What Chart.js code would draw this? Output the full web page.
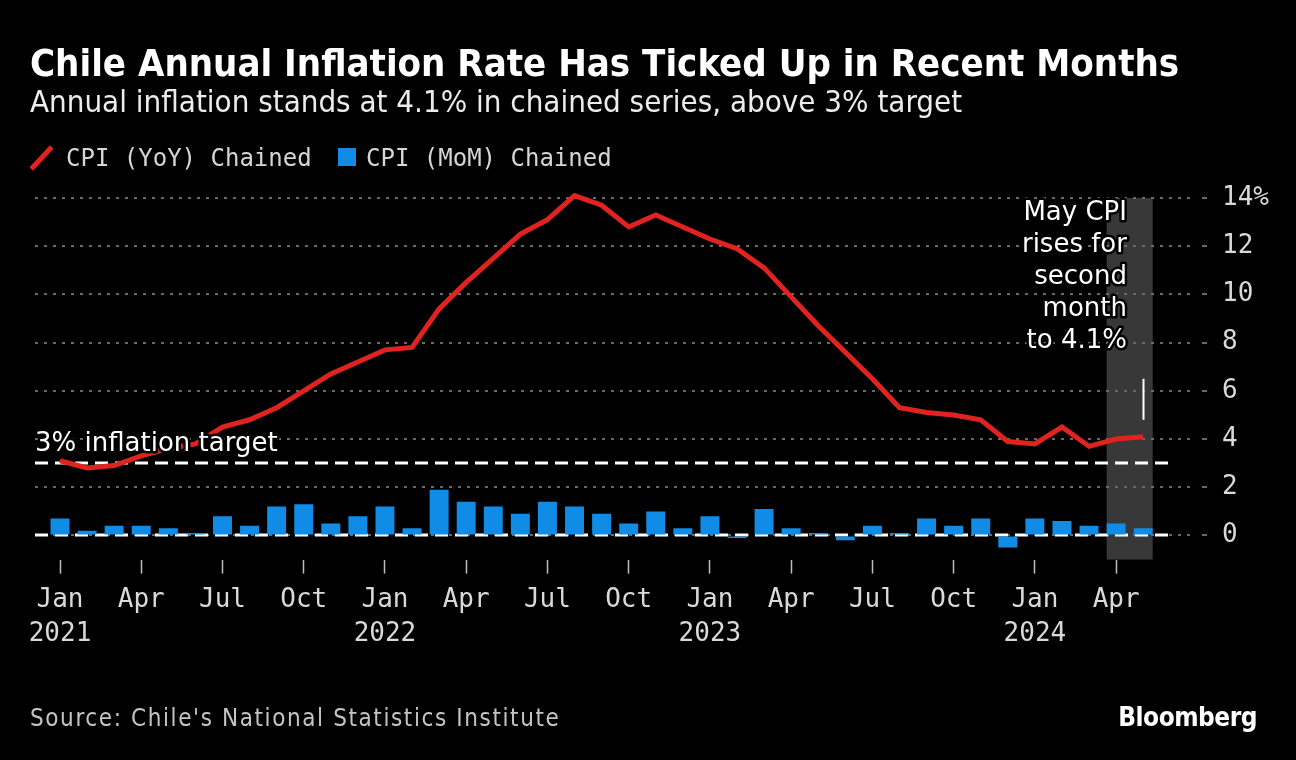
<!DOCTYPE html>
<html lang="en">
<head>
    <meta charset="UTF-8">
    <title>Chile Annual Inflation Rate Has Ticked Up in Recent Months</title>
    <script src="https://cdn.jsdelivr.net/npm/chart.js"></script>
    <style>
        body, html {
            margin: 0;
            padding: 0;
            width: 1296px;
            height: 760px;
            overflow: hidden;
            background: #000;
            font-family: "DejaVu Sans Condensed", "DejaVu Sans", sans-serif;
        }
        #wrap { position: absolute; left: 0; top: 0; width: 1296px; height: 760px; }
        .txt { position: absolute; white-space: nowrap; }
        #title { left: 30px; top: 44px; font-size: 38px; line-height: 38px; font-weight: bold; color: #fff; }
        #subtitle { left: 30px; top: 86px; font-size: 31px; line-height: 31px; color: #ececec; }
        .leg { top: 146px; font-family: "DejaVu Sans Mono", monospace; font-size: 24px; line-height: 24px; color: #d6d6d6; }
        #slash { position: absolute; left: 39px; top: 143px; width: 5px; height: 30px; background: #e0231e; transform: rotate(43deg); }
        #square { position: absolute; left: 338px; top: 148px; width: 18px; height: 18px; background: #118ce6; }
        #source { left: 30px; top: 706px; font-size: 24px; line-height: 24px; letter-spacing: 1.6px; color: #c4c4c4; }
        #logo { right: 39px; top: 704px; font-size: 26px; line-height: 26px; font-weight: bold; color: #fff; letter-spacing: -0.5px; }
    </style>
</head>
<body>
<div id="wrap"><canvas id="cpiChart"></canvas></div>
<div class="txt" id="title">Chile Annual Inflation Rate Has Ticked Up in Recent Months</div>
<div class="txt" id="subtitle">Annual inflation stands at 4.1% in chained series, above 3% target</div>
<div id="slash"></div>
<div class="txt leg" style="left:66px">CPI (YoY) Chained</div>
<div id="square"></div>
<div class="txt leg" style="left:366px">CPI (MoM) Chained</div>
<div class="txt" id="source">Source: Chile's National Statistics Institute</div>
<div class="txt" id="logo">Bloomberg</div>

<script>
    const months = [
        'Jan 2021', 'Feb 2021', 'Mar 2021', 'Apr 2021', 'May 2021', 'Jun 2021', 'Jul 2021', 'Aug 2021', 'Sep 2021', 'Oct 2021', 'Nov 2021', 'Dec 2021',
        'Jan 2022', 'Feb 2022', 'Mar 2022', 'Apr 2022', 'May 2022', 'Jun 2022', 'Jul 2022', 'Aug 2022', 'Sep 2022', 'Oct 2022', 'Nov 2022', 'Dec 2022',
        'Jan 2023', 'Feb 2023', 'Mar 2023', 'Apr 2023', 'May 2023', 'Jun 2023', 'Jul 2023', 'Aug 2023', 'Sep 2023', 'Oct 2023', 'Nov 2023', 'Dec 2023',
        'Jan 2024', 'Feb 2024', 'Mar 2024', 'Apr 2024', 'May 2024'
    ];
    // CPI YoY, chained series (%)
    const yoy = [
        3.1, 2.8, 2.9, 3.3, 3.6, 3.8, 4.5, 4.8, 5.3, 6.0, 6.7, 7.2,
        7.7, 7.8, 9.4, 10.5, 11.5, 12.5, 13.1, 14.1, 13.7, 12.8, 13.3, 12.8,
        12.3, 11.9, 11.1, 9.9, 8.7, 7.6, 6.5, 5.3, 5.1, 5.0, 4.8, 3.9,
        3.8, 4.5, 3.7, 4.0, 4.1
    ];
    // CPI MoM, chained series (%)
    const mom = [
        0.7, 0.2, 0.4, 0.4, 0.3, 0.1, 0.8, 0.4, 1.2, 1.3, 0.5, 0.8,
        1.2, 0.3, 1.9, 1.4, 1.2, 0.9, 1.4, 1.2, 0.9, 0.5, 1.0, 0.3,
        0.8, -0.1, 1.1, 0.3, 0.1, -0.2, 0.4, 0.1, 0.7, 0.4, 0.7, -0.5,
        0.7, 0.6, 0.4, 0.5, 0.3
    ];
    const xTickMonths = [
        'Jan 2021', 'Apr 2021', 'Jul 2021', 'Oct 2021', 'Jan 2022', 'Apr 2022', 'Jul 2022', 'Oct 2022',
        'Jan 2023', 'Apr 2023', 'Jul 2023', 'Oct 2023', 'Jan 2024', 'Apr 2024'
    ];
    const yTicks = [0, 2, 4, 6, 8, 10, 12, 14];
    const target = 3;
    const noteLines = ['May CPI', 'rises for', 'second', 'month', 'to 4.1%'];
    const targetLabel = '3% inflation target';

    const PX_LEFT = 35, PX_RIGHT = 1192, X0 = 60, MONTH_PX = 27.08;
    const MONO = '"DejaVu Sans Mono", monospace';

    // shaded box, dashed target / zero lines and notes
    const overlay = {
        id: 'overlay',
        beforeDraw(chart) {
            const { ctx, chartArea, scales: { x } } = chart;
            ctx.save();
            ctx.fillStyle = '#383838';
            const l = x.getPixelForValue(38.65), r = x.getPixelForValue(40.35);
            ctx.fillRect(l, chartArea.top, r - l, chartArea.bottom - chartArea.top);
            ctx.restore();
        },
        beforeDatasetsDraw(chart) {
            const { ctx, chartArea, scales: { y } } = chart;
            ctx.save();
            ctx.strokeStyle = '#fff';
            ctx.lineWidth = 3;
            ctx.setLineDash([13, 7]);
            [target, 0].forEach(v => {
                const py = Math.round(y.getPixelForValue(v));
                ctx.beginPath();
                ctx.moveTo(chartArea.left, py);
                ctx.lineTo(1168, py);
                ctx.stroke();
            });
            ctx.restore();
        },
        afterDatasetsDraw(chart) {
            const { ctx, chartArea, scales: { x, y } } = chart;
            ctx.save();
            ctx.font = '26px "DejaVu Sans"';
            ctx.lineJoin = 'round';
            ctx.lineWidth = 5;
            ctx.strokeStyle = '#000';
            ctx.fillStyle = '#fff';
            ctx.textBaseline = 'middle';

            ctx.textAlign = 'left';
            const ty = y.getPixelForValue(target) - 19;
            ctx.strokeText(targetLabel, chartArea.left, ty);
            ctx.fillText(targetLabel, chartArea.left, ty);

            ctx.textAlign = 'right';
            const nx = x.getPixelForValue(39.4);
            let ny = y.getPixelForValue(13.35);
            noteLines.forEach(line => {
                ctx.strokeText(line, nx, ny);
                ctx.fillText(line, nx, ny);
                ny += 31.8;
            });

            ctx.strokeStyle = '#fff';
            ctx.lineWidth = 2;
            const lx = Math.round(x.getPixelForValue(months.length - 1)) + 0.5;
            ctx.beginPath();
            ctx.moveTo(lx, y.getPixelForValue(6.5));
            ctx.lineTo(lx, y.getPixelForValue(4.8));
            ctx.stroke();
            ctx.restore();
        }
    };

    const ctx = document.getElementById('cpiChart').getContext('2d');
    new Chart(ctx, {
        type: 'bar',
        data: {
            datasets: [
                {
                    type: 'line',
                    label: 'CPI (YoY) Chained',
                    data: yoy.map((v, i) => ({ x: i, y: v })),
                    borderColor: '#e0231e',
                    borderWidth: 5,
                    pointRadius: 0,
                    tension: 0,
                    clip: false,
                    order: 0
                },
                {
                    label: 'CPI (MoM) Chained',
                    data: mom.map((v, i) => ({ x: i, y: v })),
                    backgroundColor: '#118ce6',
                    barPercentage: 0.7,
                    categoryPercentage: 1,
                    order: 1
                }
            ]
        },
        options: {
            responsive: true,
            maintainAspectRatio: false,
            animation: false,
            layout: { padding: { left: PX_LEFT, top: 198, right: 0, bottom: 0 } },
            scales: {
                x: {
                    type: 'linear',
                    offset: false,
                    min: (PX_LEFT - X0) / MONTH_PX,
                    max: (PX_RIGHT - X0) / MONTH_PX,
                    afterFit: s => { s.height = 200.4; },
                    afterBuildTicks: s => { s.ticks = xTickMonths.map(m => ({ value: months.indexOf(m) })); },
                    grid: { offset: false, drawOnChartArea: false, drawTicks: true, tickLength: 14, tickColor: '#bdbdbd', tickWidth: 1.5 },
                    border: { display: false },
                    ticks: {
                        autoSkip: false,
                        maxRotation: 0,
                        padding: 10,
                        color: '#d9d9d9',
                        font: { family: MONO, size: 26, lineHeight: 1.31 },
                        callback: v => {
                            const [mon, yr] = months[v].split(' ');
                            return mon === 'Jan' ? [mon, yr] : mon;
                        }
                    }
                },
                y: {
                    position: 'right',
                    min: -1,
                    max: 14,
                    afterFit: s => { s.width = 1296 - PX_RIGHT; },
                    afterBuildTicks: s => { s.ticks = yTicks.map(v => ({ value: v })); },
                    grid: {
                        color: '#6a6a6a',
                        lineWidth: 2,
                        drawTicks: true,
                        tickLength: 16,
                        tickColor: '#6a6a6a',
                        tickBorderDash: [0, 10, 5, 100]
                    },
                    border: { display: false, dash: [3, 6] },
                    ticks: {
                        padding: 14,
                        color: '#d9d9d9',
                        font: { family: MONO, size: 26 },
                        callback: v => v === 14 ? v + '%' : v
                    }
                }
            },
            plugins: {
                legend: { display: false },
                tooltip: { enabled: false }
            }
        },
        plugins: [overlay]
    });
</script>
</body>
</html>
